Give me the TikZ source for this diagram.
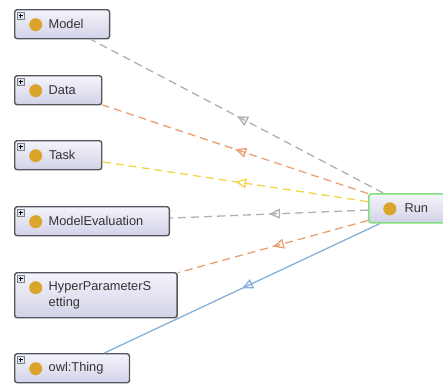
\documentclass[tikz,border=0pt]{standalone}
\usepackage{fontspec}
\setmainfont{Liberation Sans}
\usetikzlibrary{arrows.meta,decorations.markings}

\definecolor{boxedge}{HTML}{55555F}
\definecolor{boxtop}{HTML}{F4F4FB}
\definecolor{boxbot}{HTML}{D2D2E8}
\definecolor{selgreen}{HTML}{7FE07F}
\definecolor{gold}{HTML}{D9A52A}
\definecolor{iconfill}{HTML}{DCE4F0}
\definecolor{linegray}{HTML}{B0B0B0}
\definecolor{lineorange}{HTML}{E8A070}
\definecolor{lineyellow}{HTML}{F3D446}
\definecolor{lineblue}{HTML}{86B0D8}

\tikzset{
  cls/.style={draw=boxedge,line width=1.4pt,rounded corners=2.5pt,
    top color=boxtop,bottom color=boxbot,anchor=north west,
    minimum width=87pt,minimum height=29pt,inner xsep=0pt,inner ysep=4pt,
    align=left,font=\fontsize{12.8}{16}\selectfont,text=black!80,
    execute at begin node=\hspace*{34pt},
    execute at end node=\hspace*{26pt},
    path picture={\fill[gold] ([shift={(21pt,-15pt)}]path picture bounding box.north west) circle (6.5pt);}},
  sel/.style={cls,draw=selgreen,line width=1.6pt},
  isa/.style={line width=1.3pt,postaction={decorate},
    decoration={markings,mark=at position 0.5 with {\arrow[solid]{Triangle[open,length=11pt,width=10pt]}}}},
  hidden/.style={isa,dash pattern=on 8pt off 5pt}
}

\begin{document}
\begin{tikzpicture}[x=1pt,y=-1pt]
  \clip (0,0) rectangle (443,383);

  \node [cls] (model) at (14,9) {Model};
  \node [cls] (data) at (14,75) {Data};
  \node [cls] (task) at (14,140) {Task};
  \node [cls] (modelev) at (14,206) {ModelEvaluation};
  \node [cls,minimum height=45pt] (hps) at (14,272) {HyperParameterS\\etting};
  \node [cls] (thing) at (14,353) {owl:Thing};
  \node [sel] (run) at (368,193) {Run};

  % expand icons
  \foreach \n in {model,data,task,modelev,hps,thing} {
    \draw [fill=iconfill,draw=gray,line width=0.5pt] ([shift={(3pt,-3pt)}]\n.north west) rectangle ++(7pt,-7pt);
    \draw [line width=0.7pt] ([shift={(4.5pt,-6.5pt)}]\n.north west) -- ++(4pt,0pt)
      ([shift={(6.5pt,-4.5pt)}]\n.north west) -- ++(0pt,-4pt);
  }

  \foreach \src/\kind/\col in {model/hidden/linegray,data/hidden/lineorange,task/hidden/lineyellow,
      modelev/hidden/linegray,hps/hidden/lineorange,thing/isa/lineblue}
    \draw [\kind,\col] (run) -- (\src);
\end{tikzpicture}
\end{document}
